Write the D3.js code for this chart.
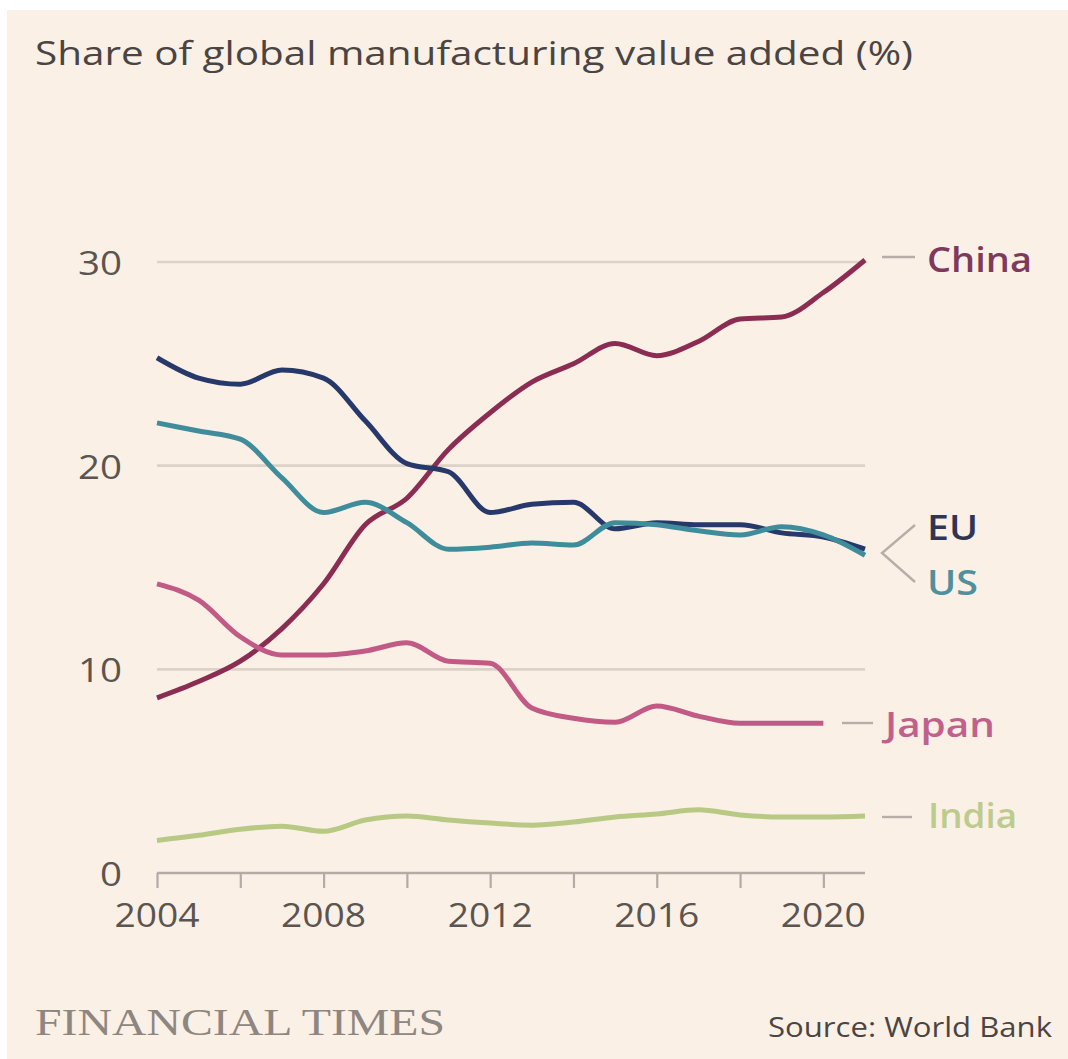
<!DOCTYPE html>
<html>
<head>
<meta charset="utf-8">
<script src="https://cdn.jsdelivr.net/npm/d3@7"></script>
<style>
  html, body { margin: 0; padding: 0; background: #ffffff; }
  svg { display: block; }
</style>
</head>
<body>
<script>
// Share of global manufacturing value added, 2004-2021 (%)
const years = d3.range(2004, 2022);
const china = [8.6, 9.4, 10.4, 12.0, 14.2, 17.1, 18.4, 20.8, 22.6, 24.1, 25.0, 26.0, 25.4, 26.1, 27.2, 27.3, 28.5, 30.1];
const eu    = [25.3, 24.3, 24.0, 24.7, 24.3, 22.2, 20.1, 19.7, 17.7, 18.1, 18.2, 16.9, 17.2, 17.1, 17.1, 16.7, 16.5, 15.9];
const us    = [22.1, 21.7, 21.3, 19.4, 17.7, 18.2, 17.2, 15.9, 16.0, 16.2, 16.1, 17.2, 17.1, 16.8, 16.6, 17.0, 16.6, 15.6];
const japan = [14.2, 13.4, 11.6, 10.7, 10.7, 10.9, 11.3, 10.4, 10.3, 8.1, 7.6, 7.4, 8.2, 7.7, 7.35, 7.35, 7.35];
const india = [1.6, 1.85, 2.15, 2.3, 2.05, 2.6, 2.8, 2.6, 2.45, 2.35, 2.5, 2.75, 2.9, 3.1, 2.85, 2.75, 2.75, 2.8];

const yTicks = [0, 10, 20, 30];
const xTickYears = d3.range(2004, 2021, 2);
const xLabelYears = [2004, 2008, 2012, 2016, 2020];

const series = [
  { name: "China", values: china, color: "#8b2d52", text: "#7e3a5d" },
  { name: "EU",    values: eu,    color: "#26396a", text: "#2f3654" },
  { name: "US",    values: us,    color: "#3f8d9b", text: "#4f909c" },
  { name: "Japan", values: japan, color: "#c25a86", text: "#c0618d" },
  { name: "India", values: india, color: "#b7c983", text: "#bccb8e" }
];

const W = 1068, H = 1059;
const BG = "#fbf0e6";
const FONT = "'Open Sans', 'Noto Sans', sans-serif";

const svg = d3.select("body").append("svg")
  .attr("width", W).attr("height", H);

svg.append("rect").attr("x", 7).attr("y", 10)
  .attr("width", W - 7).attr("height", H - 10).attr("fill", BG);

const x = d3.scaleLinear().domain([2004, 2021]).range([157, 865]);
const y = d3.scaleLinear().domain([0, 30]).range([873, 262]);

// stretch text to a measured width
function fit(sel, w) {
  return sel.attr("textLength", w).attr("lengthAdjust", "spacingAndGlyphs");
}

// title
fit(svg.append("text").attr("x", 35).attr("y", 65)
  .attr("font-family", FONT).attr("font-size", 32).attr("fill", "#4a4542")
  .text("Share of global manufacturing value added (%)"), 878);

// gridlines
svg.append("g").selectAll("line")
  .data(yTicks.filter(d => d > 0)).join("line")
  .attr("x1", x(2004)).attr("x2", x(2021))
  .attr("y1", d => y(d)).attr("y2", d => y(d))
  .attr("stroke", "#ddd2c8").attr("stroke-width", 2.6);

// y labels
svg.append("g").selectAll("text")
  .data(yTicks).join("text")
  .attr("x", 122).attr("y", d => y(d) + 13)
  .attr("text-anchor", "end")
  .attr("font-family", FONT).attr("font-size", 32).attr("fill", "#5b5550")
  .attr("textLength", d => String(d).length * 22)
  .attr("lengthAdjust", "spacingAndGlyphs")
  .text(d => d);

// x axis
const xAxis = d3.axisBottom(x)
  .tickValues(xTickYears)
  .tickSize(15)
  .tickFormat("");
const gx = svg.append("g").attr("transform", `translate(0,${y(0)})`).call(xAxis);
gx.select(".domain").attr("stroke", "#b3aca5").attr("stroke-width", 2.6)
  .attr("d", `M${x(2004)},0H${x(2021)}`);
gx.selectAll(".tick line").attr("stroke", "#b3aca5").attr("stroke-width", 2.2);

svg.append("g").selectAll("text")
  .data(xLabelYears).join("text")
  .attr("x", d => x(d)).attr("y", 927)
  .attr("text-anchor", "middle")
  .attr("font-family", FONT).attr("font-size", 32).attr("fill", "#5b5550")
  .attr("textLength", 85).attr("lengthAdjust", "spacingAndGlyphs")
  .text(d => d);

// lines
const line = d3.line()
  .x((d, i) => x(years[i]))
  .y(d => y(d))
  .curve(d3.curveMonotoneX);

svg.append("g").selectAll("path")
  .data(series).join("path")
  .attr("d", d => line(d.values))
  .attr("fill", "none")
  .attr("stroke", d => d.color)
  .attr("stroke-width", 5)
  .attr("stroke-linejoin", "round");

// labels and leaders
const LEAD = "#b9ada7";
const lead = svg.append("g").attr("stroke", LEAD).attr("stroke-width", 2.4).attr("fill", "none");
lead.append("line").attr("x1", 882).attr("x2", 915).attr("y1", 257).attr("y2", 257);
lead.append("path").attr("d", "M915,525L882,553L915,582");
lead.append("line").attr("x1", 842).attr("x2", 873).attr("y1", 723).attr("y2", 723);
lead.append("line").attr("x1", 882).attr("x2", 912).attr("y1", 817).attr("y2", 817);

const labels = [
  { s: series[0], x: 927, y: 272, w: 105 },
  { s: series[1], x: 927, y: 540, w: 51 },
  { s: series[2], x: 927, y: 595, w: 51 },
  { s: series[3], x: 885, y: 737, w: 110 },
  { s: series[4], x: 928, y: 828, w: 89 }
];
svg.append("g").selectAll("text")
  .data(labels).join("text")
  .attr("x", d => d.x).attr("y", d => d.y)
  .attr("font-family", FONT).attr("font-size", 34).attr("font-weight", 600)
  .attr("fill", d => d.s.text)
  .attr("textLength", d => d.w).attr("lengthAdjust", "spacingAndGlyphs")
  .text(d => d.s.name);

// footer
fit(svg.append("text").attr("x", 35).attr("y", 1035)
  .attr("font-family", "'Liberation Serif', 'DejaVu Serif', serif")
  .attr("font-size", 37).attr("fill", "#8d8681")
  .text("FINANCIAL TIMES"), 410);

fit(svg.append("text").attr("x", 768).attr("y", 1037)
  .attr("font-family", FONT).attr("font-size", 27).attr("fill", "#4a4542")
  .text("Source: World Bank"), 284);
</script>
</body>
</html>
